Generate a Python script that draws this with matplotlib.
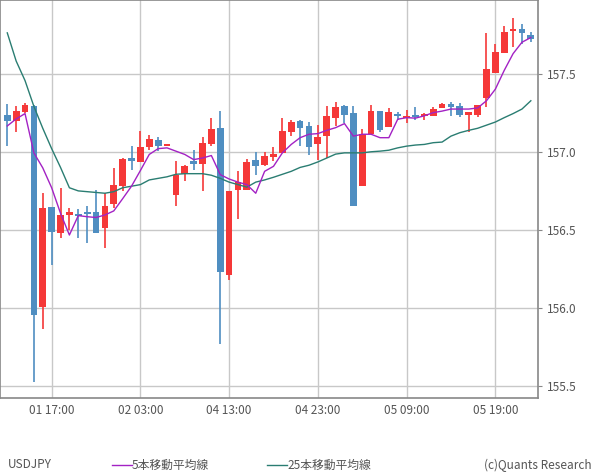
import matplotlib
matplotlib.use("Agg")
import matplotlib.pyplot as plt
import numpy as np

opens = [157.236,157.199,157.251,157.294,156.008,156.650,156.478,156.594,156.605,156.610,
         156.618,156.510,156.665,156.781,156.959,156.935,157.032,157.075,157.040,156.723,
         156.858,156.942,156.922,157.047,157.152,156.214,156.753,156.753,156.946,156.914,
         156.967,156.991,157.126,157.197,157.165,157.049,157.101,157.217,157.294,157.249,
         156.779,157.112,157.262,157.159,157.242,157.215,157.230,157.228,157.230,157.281,
         157.307,157.294,157.236,157.236,157.341,157.506,157.629,157.770,157.783,157.745]
highs = [157.307,157.294,157.313,157.300,156.736,156.650,156.766,156.643,156.637,156.656,
         156.755,156.736,156.895,156.960,157.036,157.133,157.109,157.094,157.050,156.942,
         156.914,157.011,157.094,157.217,157.262,156.747,156.875,156.951,156.998,156.998,
         157.030,157.217,157.204,157.200,157.191,157.172,157.294,157.320,157.300,157.294,
         157.146,157.300,157.262,157.281,157.255,157.268,157.287,157.249,157.287,157.313,
         157.320,157.313,157.255,157.300,157.758,157.687,157.803,157.854,157.816,157.764]
lows = [157.036,157.126,157.249,155.531,155.866,156.278,156.446,156.500,156.452,156.414,
        156.480,156.388,156.643,156.747,156.882,156.935,157.012,157.004,157.040,156.652,
        156.813,156.882,156.747,157.036,155.770,156.182,156.568,156.753,156.850,156.907,
        156.940,156.991,157.101,157.036,156.978,156.946,156.959,157.165,157.184,156.656,
        156.779,157.112,157.126,157.159,157.204,157.186,157.204,157.204,157.230,157.277,
        157.230,157.223,157.126,157.223,157.287,157.506,157.629,157.668,157.687,157.699]
closes = [157.199,157.262,157.300,155.956,156.643,156.489,156.598,156.618,156.587,156.605,
          156.484,156.656,156.785,156.953,156.942,157.030,157.081,157.036,157.045,156.851,
          156.909,156.922,157.056,157.146,156.231,156.747,156.804,156.933,156.907,156.972,
          156.985,157.133,157.191,157.152,157.030,157.094,157.230,157.287,157.236,156.656,
          157.114,157.262,157.139,157.255,157.231,157.230,157.223,157.242,157.275,157.307,
          157.287,157.236,157.255,157.300,157.526,157.635,157.764,157.783,157.758,157.719]
ma5 = [157.165,157.21,157.244,156.993,156.897,156.77,156.607,156.468,156.592,156.585,
       156.58,156.596,156.622,156.70,156.78,156.88,156.983,157.02,157.025,157.004,
       156.983,156.95,156.96,156.976,156.854,156.826,156.806,156.79,156.735,156.875,
       156.907,156.993,157.047,157.09,157.112,157.116,157.137,157.154,157.18,157.10,
       157.112,157.112,157.09,157.09,157.208,157.218,157.215,157.23,157.25,157.26,
       157.273,157.273,157.273,157.28,157.326,157.40,157.52,157.627,157.70,157.73]
ma25 = [157.76,157.58,157.455,157.29,157.15,157.02,156.90,156.77,156.75,156.745,
        156.74,156.735,156.745,156.77,156.78,156.79,156.82,156.83,156.84,156.856,
        156.86,156.86,156.86,156.85,156.83,156.806,156.79,156.774,156.806,156.82,
        156.837,156.856,156.875,156.90,156.914,156.935,156.96,156.985,156.993,156.993,
        156.993,157.0,157.004,157.01,157.025,157.036,157.043,157.047,157.058,157.062,
        157.10,157.122,157.137,157.15,157.17,157.19,157.218,157.244,157.273,157.326]
tick_idx = [5, 15, 25, 35, 45, 55]
tick_labels = ["01 17:00", "02 03:00", "04 13:00", "04 23:00", "05 09:00", "05 19:00"]
yticks = [155.5, 156.0, 156.5, 157.0, 157.5]

RED = "#f53838"
BLUE = "#4f8ec1"
GRAY = "#555555"
FONT = ["Noto Sans CJK JP", "DejaVu Sans"]

fig = plt.figure(figsize=(6, 4.75), dpi=100)
ax = fig.add_axes([0.0, 0.162, 0.897, 0.838])

o = np.array(opens); c = np.array(closes); h = np.array(highs); l = np.array(lows)
x = np.arange(len(o))
up = c >= o
cols = np.where(up, RED, BLUE)
ax.vlines(x, l, h, colors=cols, linewidth=1.2, zorder=2)
body_bot = np.minimum(o, c)
body_h = np.maximum(np.abs(c - o), 0.012)
ax.bar(x, body_h, bottom=body_bot, width=0.76, color=cols, linewidth=0, zorder=3)

ax.plot(x, ma25, color="#2a7d72", linewidth=1.0, zorder=4)
ax.plot(x, ma5, color="#a322c4", linewidth=1.0, zorder=4)

ax.set_xlim(-0.82, 59.83)
ax.set_ylim(155.426, 157.97)
ax.set_xticks(tick_idx)
ax.set_xticklabels(tick_labels, family=FONT, fontsize=8.5, color=GRAY)
ax.set_yticks(yticks)
ax.set_yticklabels([f"{v:.1f}" for v in yticks], family=FONT, fontsize=8.5, color=GRAY)
ax.yaxis.tick_right()
ax.tick_params(axis="both", length=3, color="#888888")
ax.tick_params(axis="x", length=0, pad=4)
ax.grid(True, color="#c8c8c8", linewidth=1.0, zorder=0)
ax.set_axisbelow(True)
for s in ax.spines.values():
    s.set_color("#888888")
    s.set_linewidth(1.2)

fig.text(8/600, 1 - 465/475, "USDJPY", family=FONT, fontsize=8.5, color=GRAY, va="center")
fig.add_artist(plt.Line2D([112/600, 132/600], [1 - 465/475]*2, color="#a322c4", linewidth=1.0))
fig.text(132/600, 1 - 465/475, "5本移動平均線", family=FONT, fontsize=8.5, color=GRAY, va="center")
fig.add_artist(plt.Line2D([267/600, 287/600], [1 - 465/475]*2, color="#2a7d72", linewidth=1.0))
fig.text(287/600, 1 - 465/475, "25本移動平均線", family=FONT, fontsize=8.5, color=GRAY, va="center")
fig.text(592/600, 1 - 465/475, "(c)Quants Research", family=FONT, fontsize=8.5, color=GRAY,
         va="center", ha="right")

fig.savefig("out.png", dpi=100)
